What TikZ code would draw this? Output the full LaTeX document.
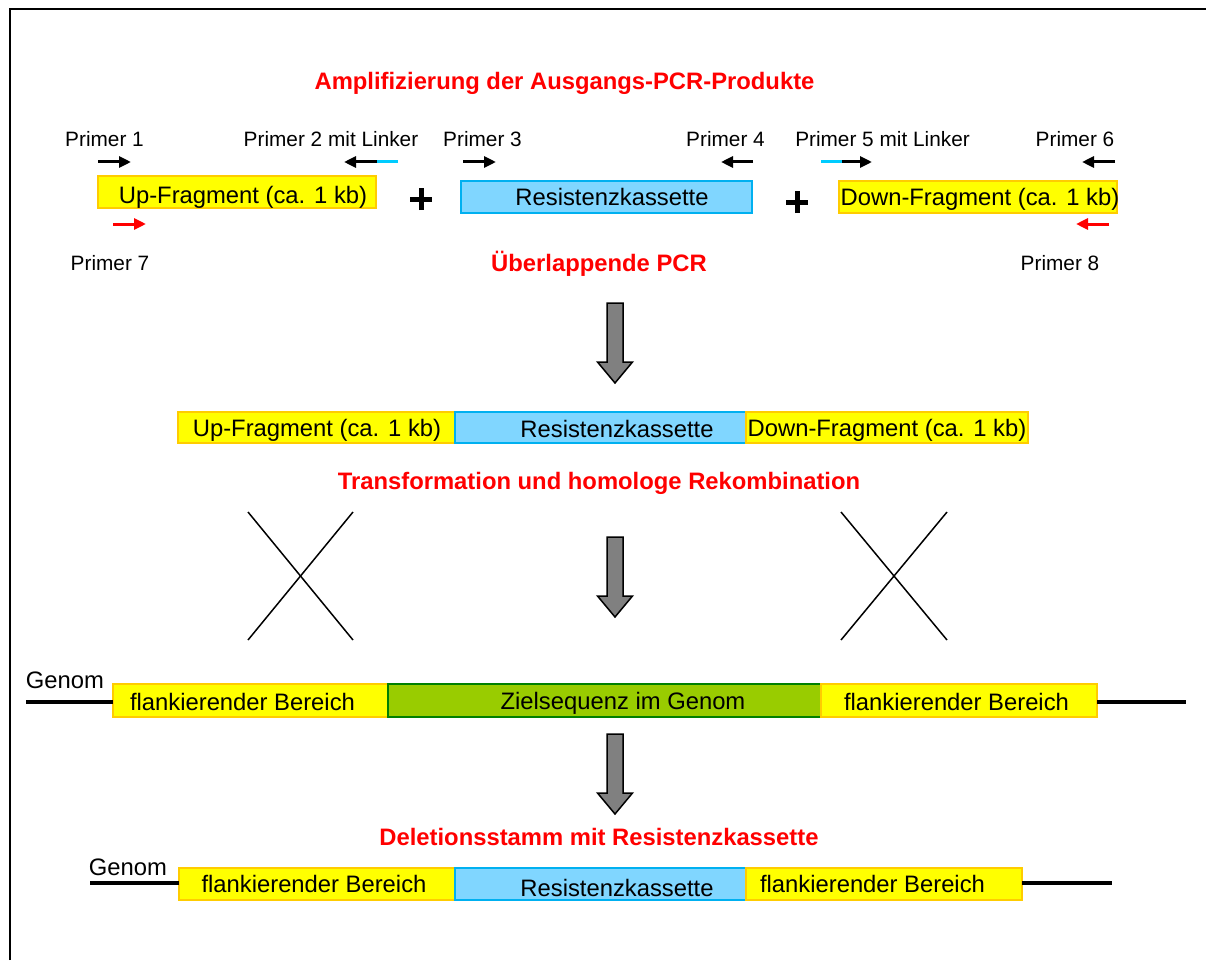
\documentclass[tikz,border=0pt]{standalone}
\usepackage{fontspec}
\setmainfont{Liberation Sans}
\usetikzlibrary{arrows.meta}
\definecolor{yelf}{RGB}{255,255,0}
\definecolor{yelb}{RGB}{255,204,0}
\definecolor{cyf}{RGB}{128,214,255}
\definecolor{cyb}{RGB}{0,176,240}
\definecolor{lnk}{RGB}{0,204,255}
\definecolor{grf}{RGB}{153,204,0}
\definecolor{grb}{RGB}{0,128,0}
\definecolor{garr}{RGB}{128,128,128}
\begin{document}
\begin{tikzpicture}[x=1pt,y=-1pt,
  anyb/.style={draw, line width=2pt, inner sep=0pt, outer sep=0pt, anchor=north west},
  ybox/.style={anyb, fill=yelf, draw=yelb},
  cbox/.style={anyb, fill=cyf, draw=cyb},
  gbox/.style={anyb, fill=grf, draw=grb},
  btxt/.style={font=\fontsize{23.8}{28}\selectfont, inner sep=0pt, anchor=base},
  ptxt/.style={font=\fontsize{20.8}{24}\selectfont, inner sep=0pt, anchor=base},
  ttl/.style={font=\fontsize{23.8}{28}\selectfont\bfseries, text=red, inner sep=0pt, anchor=base},
  primer/.style={line width=3pt, -{Triangle[length=12pt 0,width=11pt 0]}},
  linker/.style={line width=3pt, draw=lnk},
  plussign/.style={line width=5pt},
  xline/.style={line width=1.5pt},
  genom/.style={line width=3.5pt},
  garrow/.style={draw=black, line width=1.5pt, fill=garr, line join=miter},
]
\useasboundingbox (0,0) rectangle (1206,960);
% frame
\draw[line width=2pt] (10,960) -- (10,9) -- (1206,9);

% title 1
\node[ttl] (t1) at (564.5,90) {Amplifizierung der Ausgangs-PCR-Produkte};

% primer labels
\node[ptxt] (pl1) at (104.5,146.5) {Primer 1};
\node[ptxt] (pl2) at (331,146.5) {Primer 2 mit Linker};
\node[ptxt] (pl3) at (482.5,146.5) {Primer 3};
\node[ptxt] (pl4) at (725.5,146.5) {Primer 4};
\node[ptxt] (pl5) at (882.5,146.5) {Primer 5 mit Linker};
\node[ptxt] (pl6) at (1075,146.5) {Primer 6};
\node[ptxt] (pl7) at (110,270.5) {Primer 7};
\node[ptxt] (pl8) at (1060,270.5) {Primer 8};

% primer arrows
\coordinate (a1s) at (98,162);  \coordinate (a1e) at (131,162);
\coordinate (a2c) at (398,162); \coordinate (a2s) at (377,162); \coordinate (a2e) at (344,162);
\coordinate (a3s) at (463,162); \coordinate (a3e) at (496,162);
\coordinate (a4s) at (753,162); \coordinate (a4e) at (721,162);
\coordinate (a5c) at (821,162); \coordinate (a5s) at (842,162); \coordinate (a5e) at (872,162);
\coordinate (a6s) at (1115,162); \coordinate (a6e) at (1082,162);
\coordinate (a7s) at (113,224); \coordinate (a7e) at (146,224);
\coordinate (a8s) at (1109,224); \coordinate (a8e) at (1076,224);
\draw[primer] (a1s) -- (a1e);
\draw[linker] (a2c) -- (a2s);
\draw[primer] (a2s) -- (a2e);
\draw[primer] (a3s) -- (a3e);
\draw[primer] (a4s) -- (a4e);
\draw[linker] (a5c) -- (a5s);
\draw[primer] (a5s) -- (a5e);
\draw[primer] (a6s) -- (a6e);
\draw[primer, red] (a7s) -- (a7e);
\draw[primer, red] (a8s) -- (a8e);

% row 1 boxes
\node[ybox, minimum width=278pt, minimum height=32pt] (up1) at (98,176) {};
\node[cbox, minimum width=291pt, minimum height=32pt] (res1) at (461,181) {};
\node[ybox, minimum width=278pt, minimum height=32pt] (dn1) at (839,181) {};
\node[btxt] (up1t) at (243,203) {Up-Fragment (ca. 1 kb)};
\node[btxt] (res1t) at (612,205) {Resistenzkassette};
\node[btxt] (dn1t) at (980,205) {Down-Fragment (ca. 1 kb)};

% plus signs
\coordinate (pa) at (421,199);
\coordinate (pb) at (797,202);
\draw[plussign] ([xshift=-11pt]pa) -- ([xshift=11pt]pa);
\draw[plussign] ([yshift=-11pt]pa) -- ([yshift=11pt]pa);
\draw[plussign] ([xshift=-11pt]pb) -- ([xshift=11pt]pb);
\draw[plussign] ([yshift=-11pt]pb) -- ([yshift=11pt]pb);

% title 2
\node[ttl] (t2) at (599,271.5) {Überlappende PCR};

% gray arrows
\foreach \yy in {303,537,734} {
  \draw[garrow] (607,\yy) -- (623,\yy) -- (623,\yy+59) -- (632.5,\yy+59)
     -- (615,\yy+80) -- (597.5,\yy+59) -- (607,\yy+59) -- cycle;
}

% row 2
\node[ybox, minimum width=277pt, minimum height=31pt] (up2) at (178,412) {};
\node[cbox, minimum width=291pt, minimum height=31pt] (res2) at (455,412) {};
\node[ybox, minimum width=282pt, minimum height=31pt] (dn2) at (746,412) {};
\node[btxt] (up2t) at (317,436) {Up-Fragment (ca. 1 kb)};
\node[btxt] (res2t) at (617,437) {Resistenzkassette};
\node[btxt] (dn2t) at (887,436.5) {Down-Fragment (ca. 1 kb)};

% title 3
\node[ttl] (t3) at (599,489.5) {Transformation und homologe Rekombination};

% crosses
\coordinate (xa1) at (248,512); \coordinate (xa2) at (353,640);
\coordinate (xa3) at (353,512); \coordinate (xa4) at (248,640);
\coordinate (xb1) at (841,512); \coordinate (xb2) at (947,640);
\coordinate (xb3) at (947,512); \coordinate (xb4) at (841,640);
\draw[xline] (xa1) -- (xa2);
\draw[xline] (xa3) -- (xa4);
\draw[xline] (xb1) -- (xb2);
\draw[xline] (xb3) -- (xb4);

% genome row 1
\node[ybox, minimum width=275pt, minimum height=33pt] (fl1) at (113,684) {};
\node[gbox, minimum width=433pt, minimum height=33pt] (ziel) at (388,684) {};
\node[ybox, minimum width=276pt, minimum height=33pt] (fr1) at (821,684) {};
\node[btxt] (fl1t) at (242.5,710.5) {flankierender Bereich};
\node[btxt] (zielt) at (623,709.5) {Zielsequenz im Genom};
\node[btxt] (fr1t) at (956.5,710.5) {flankierender Bereich};
\node[btxt] (gen1) at (65,688) {Genom};
\coordinate (g1l) at (26,702);
\coordinate (g1r) at (1186,702);
\draw[genom] (g1l) -- (g1l -| fl1.west);
\draw[genom] (g1r -| fr1.east) -- (g1r);

% title 4
\node[ttl] (t4) at (599,845.5) {Deletionsstamm mit Resistenzkassette};

% genome row 2
\node[ybox, minimum width=276pt, minimum height=32pt] (fl2) at (179,868) {};
\node[cbox, minimum width=291pt, minimum height=32pt] (res3) at (455,868) {};
\node[ybox, minimum width=276pt, minimum height=32pt] (fr2) at (746,868) {};
\node[btxt] (fl2t) at (314,892.5) {flankierender Bereich};
\node[btxt] (res3t) at (617,896) {Resistenzkassette};
\node[btxt] (fr2t) at (872.5,892.5) {flankierender Bereich};
\node[btxt] (gen2) at (128,875) {Genom};
\coordinate (g2l) at (90,883);
\coordinate (g2r) at (1112,883);
\draw[genom] (g2l) -- (g2l -| fl2.west);
\draw[genom] (g2r -| fr2.east) -- (g2r);
\end{tikzpicture}
\end{document}
